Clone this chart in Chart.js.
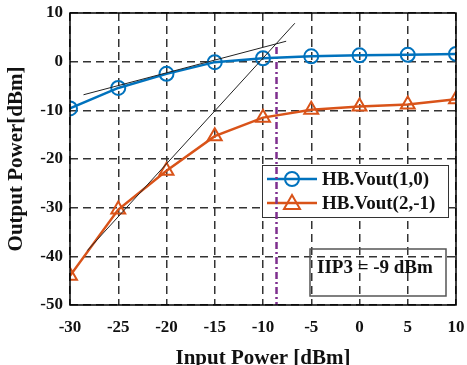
<!DOCTYPE html>
<html>
<head>
<meta charset="utf-8">
<script src="https://cdn.jsdelivr.net/npm/chart.js@4/dist/chart.umd.min.js"></script>
<style>
  html, body { margin: 0; padding: 0; background: #fff; }
  #wrap { width: 467px; height: 365px; }
</style>
</head>
<body>
<div id="wrap"><canvas id="c" width="467" height="365"></canvas></div>
<script>
// input power sweep (dBm)
const inputPower = [-30, -25, -20, -15, -10, -5, 0, 5, 10];
const fundOut = [-9.6, -5.4, -2.5, -0.1, 0.7, 1.1, 1.3, 1.4, 1.6];
const im3Out = [-44, -30.4, -22.4, -15.3, -11.5, -9.9, -9.2, -8.8, -7.7];

// extrapolation lines (end points)
const fundFitX = [-28.6, -7.6];
const fundFitY = [-6.8, 4.2];
const im3FitX = [-28.2, -6.7];
const im3FitY = [-38.8, 7.9];

const iip3 = -8.6;
const iip3LineY = [3, -50];

const xTicks = [-30, -25, -20, -15, -10, -5, 0, 5, 10];
const yTicks = [-50, -40, -30, -20, -10, 0, 10];

const blue = '#0072BD';
const orange = '#D95319';
const purple = '#7E2F8E';
const serif = '"Liberation Serif", "Times New Roman", serif';

const toPts = (xs, ys) => xs.map((x, i) => ({x: x, y: ys[i]}));

const legendItems = [
  {text: 'HB.Vout(1,0)', color: blue, marker: 'circle'},
  {text: 'HB.Vout(2,-1)', color: orange, marker: 'triangle'}
];

const boxes = {
  id: 'boxes',
  beforeDatasetsDraw(chart) {
    const ctx = chart.ctx;
    ctx.save();
    // legend box
    const lx = 262, ly = 165, lw = 186, lh = 52;
    ctx.fillStyle = '#fff';
    ctx.fillRect(lx, ly, lw, lh);
    ctx.strokeStyle = '#333';
    ctx.lineWidth = 1;
    ctx.strokeRect(lx + 0.5, ly + 0.5, lw, lh);
    ctx.font = 'bold 19px ' + serif;
    ctx.textBaseline = 'middle';
    legendItems.forEach((it, i) => {
      const y = ly + 14 + i * 24;
      ctx.strokeStyle = it.color;
      ctx.lineWidth = 2.5;
      ctx.beginPath();
      ctx.moveTo(lx + 5, y);
      ctx.lineTo(lx + 55, y);
      ctx.stroke();
      ctx.lineWidth = 2;
      ctx.beginPath();
      if (it.marker === 'circle') {
        ctx.arc(lx + 30, y, 7, 0, Math.PI * 2);
      } else {
        ctx.moveTo(lx + 30, y - 8);
        ctx.lineTo(lx + 38, y + 6);
        ctx.lineTo(lx + 22, y + 6);
        ctx.closePath();
      }
      ctx.stroke();
      ctx.fillStyle = '#111';
      ctx.fillText(it.text, lx + 60, y + 1);
    });
    // IIP3 annotation box (transparent)
    ctx.strokeStyle = '#555';
    ctx.lineWidth = 1.5;
    ctx.strokeRect(310, 249, 136, 47);
    ctx.fillStyle = '#111';
    ctx.fillText('IIP3 = -9 dBm', 317, 268);
    ctx.restore();
  },
  afterDraw(chart) {
    const a = chart.chartArea, ctx = chart.ctx;
    ctx.save();
    ctx.strokeStyle = '#000';
    ctx.lineWidth = 1.5;
    ctx.strokeRect(a.left, a.top, a.right - a.left, a.bottom - a.top);
    ctx.restore();
  }
};

new Chart(document.getElementById('c'), {
  type: 'line',
  data: {
    datasets: [
      {
        label: 'fund fit', data: toPts(fundFitX, fundFitY),
        borderColor: '#222', borderWidth: 1, pointRadius: 0
      },
      {
        label: 'im3 fit', data: toPts(im3FitX, im3FitY),
        borderColor: '#222', borderWidth: 1, pointRadius: 0
      },
      {
        label: 'HB.Vout(1,0)', data: toPts(inputPower, fundOut),
        borderColor: blue, borderWidth: 2.5, pointStyle: 'circle', pointRadius: 7,
        pointBorderWidth: 2, pointBackgroundColor: 'rgba(0,0,0,0)', pointBorderColor: blue
      },
      {
        label: 'HB.Vout(2,-1)', data: toPts(inputPower, im3Out),
        borderColor: orange, borderWidth: 2.5, pointStyle: 'triangle', pointRadius: 8,
        pointBorderWidth: 2, pointBackgroundColor: 'rgba(0,0,0,0)', pointBorderColor: orange
      },
      {
        label: 'IIP3', data: toPts([iip3, iip3], iip3LineY),
        borderColor: purple, borderWidth: 2.5, borderDash: [7, 3, 2, 3], pointRadius: 0
      }
    ]
  },
  options: {
    responsive: false,
    animation: false,
    layout: { padding: { top: 13, right: 11, left: 0, bottom: 0 } },
    plugins: { legend: { display: false }, tooltip: { enabled: false } },
    scales: {
      x: {
        type: 'linear', min: -30, max: 10,
        afterBuildTicks: s => { s.ticks = xTicks.map(v => ({value: v})); },
        afterFit: s => { s.height = 60; s.paddingLeft = 0; s.paddingRight = 0; },
        grid: { color: '#333', lineWidth: 1.5, drawTicks: false },
        border: { display: false, dash: [8, 5] },
        ticks: { color: '#111', padding: 12, font: { family: serif, size: 17, weight: 'bold' } },
        title: { display: true, text: 'Input Power [dBm]', color: '#111', padding: { top: 4, bottom: -6 },
                 font: { family: serif, size: 21, weight: 'bold' } }
      },
      y: {
        type: 'linear', min: -50, max: 10,
        afterBuildTicks: s => { s.ticks = yTicks.map(v => ({value: v})); },
        afterFit: s => { s.width = 70; s.paddingTop = 0; s.paddingBottom = 0; },
        grid: { color: '#333', lineWidth: 1.5, drawTicks: false },
        border: { display: false, dash: [8, 5] },
        ticks: { color: '#111', padding: 7, font: { family: serif, size: 17, weight: 'bold' } },
        title: { display: true, text: 'Output Power[dBm]', color: '#111', padding: { bottom: 0 },
                 font: { family: serif, size: 21, weight: 'bold' } }
      }
    }
  },
  plugins: [boxes]
});
</script>
</body>
</html>
